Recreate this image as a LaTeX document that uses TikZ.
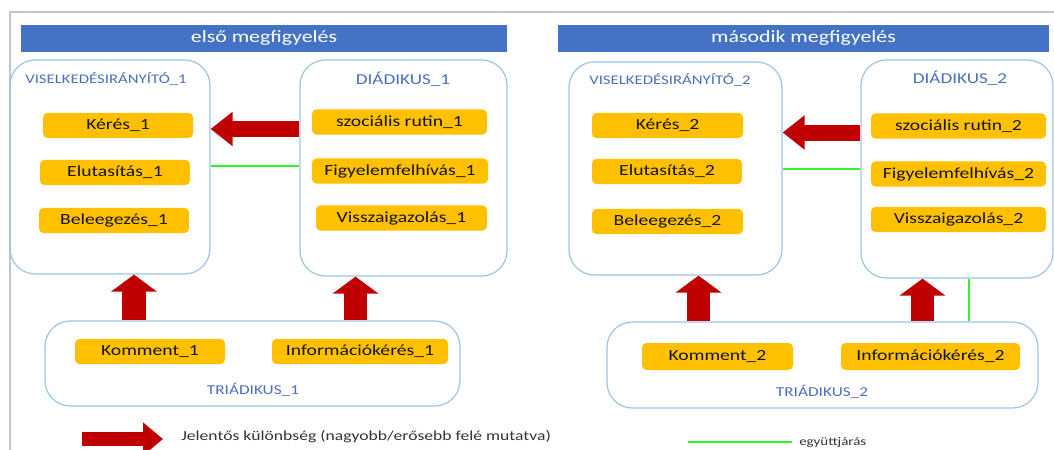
\documentclass[tikz,border=0pt]{standalone}
\usepackage{fontspec}
\setmainfont{Carlito}[FakeStretch=1.27]
\usetikzlibrary{arrows.meta}
\definecolor{titleblue}{HTML}{4472C4}
\definecolor{boxline}{HTML}{9DC3E6}
\definecolor{itemorange}{HTML}{FFC000}
\definecolor{arrowred}{HTML}{C00000}
\definecolor{labelblue}{HTML}{4A6FC0}
\definecolor{corrgreen}{HTML}{2EF52E}
\definecolor{framegray}{HTML}{C4C4C4}

\begin{document}
\begin{tikzpicture}[x=0.75pt,y=0.75pt,yscale=-1,xscale=1,
	titlebar/.style={fill=titleblue, text=white, inner sep=0pt, minimum height=20.25pt, font=\fontsize{12.9}{14}\selectfont},
	group/.style={draw=boxline, line width=0.9pt, rounded corners=19pt, inner sep=0pt},
	grouplabel/.style={text=labelblue, inner sep=0.75pt},
	item/.style={fill=itemorange, rounded corners=3.5pt, minimum width=#1, minimum height=19pt, inner sep=0pt, text=black!92, font=\fontsize{11.6}{13}\selectfont},
	item/.default=112.5pt,
	sigarrow/.style={draw=arrowred, line width=12pt, -{Triangle[width=24.75pt,length=16.5pt]}},
	uparrow/.style={draw=arrowred, line width=17.5pt, -{Triangle[width=33.75pt,length=12.75pt]}},
	corr/.style={draw=corrgreen, line width=2.2pt}]
	\useasboundingbox (0,0) rectangle (1054,450);
	\draw [framegray, line width=1.1pt] (10,450) -- (10,12) -- (1054,12) ;
	% titles
	\node [titlebar, minimum width=364.5pt] (title1) at (264,38.5) {első megfigyelés};
	\node [titlebar, minimum width=368.25pt] (title2) at (803.5,38.5) {második megfigyelés};
	% first observation
	\node [group, minimum width=150pt, minimum height=160.5pt] (vis1) at (110,167) {};
	\node [group, minimum width=155.25pt, minimum height=162pt] (dia1) at (403.5,168) {};
	\node [group, minimum width=311.25pt, minimum height=63.75pt] (tri1) at (252.5,363.5) {};
	\node [grouplabel, font=\fontsize{9.9}{11}\selectfont] (vis1lab) at (106,79) {VISELKEDÉSIRÁNYÍTÓ\_1};
	\node [grouplabel, font=\fontsize{11.3}{13}\selectfont] (dia1lab) at (403,79) {DIÁDIKUS\_1};
	\node [grouplabel, font=\fontsize{10.2}{12}\selectfont] (tri1lab) at (253,390) {TRIÁDIKUS\_1};
	\node [item] (keres1) at (118,125.5) {Kérés\_1};
	\node [item] (eluta1) at (115,172.5) {Elutasítás\_1};
	\node [item] (bele1) at (114,220.5) {Beleegezés\_1};
	\node [item=131.25pt] (rutin1) at (399.5,122) {szociális rutin\_1};
	\node [item=132pt] (figy1) at (400,171) {Figyelemfelhívás\_1};
	\node [item=128.25pt] (vissza1) at (401.5,218) {Visszaigazolás\_1};
	\node [item] (komm1) at (150,351.5) {Komment\_1};
	\node [item=132pt] (info1) at (360,351.5) {Információkérés\_1};
	% second observation
	\node [group, minimum width=159.75pt, minimum height=159.75pt] (vis2) at (675.5,168.5) {};
	\node [group, minimum width=144pt, minimum height=163.5pt] (dia2) at (957,169) {};
	\node [group, minimum width=323.25pt, minimum height=64.5pt] (tri2) at (822.5,365) {};
	\node [grouplabel, font=\fontsize{9.9}{11}\selectfont] (vis2lab) at (670,80) {VISELKEDÉSIRÁNYÍTÓ\_2};
	\node [grouplabel, font=\fontsize{11.3}{13}\selectfont] (dia2lab) at (960,78) {DIÁDIKUS\_2};
	\node [grouplabel, font=\fontsize{10.2}{12}\selectfont] (tri2lab) at (822,392) {TRIÁDIKUS\_2};
	\node [item=113.25pt] (keres2) at (667.5,125.5) {Kérés\_2};
	\node [item] (eluta2) at (667,171.5) {Elutasítás\_2};
	\node [item=113.25pt] (bele2) at (667.5,221.5) {Beleegezés\_2};
	\node [item=131.25pt] (rutin2) at (958.5,126) {szociális rutin\_2};
	\node [item=131.25pt] (figy2) at (958.5,174) {Figyelemfelhívás\_2};
	\node [item=131.25pt] (vissza2) at (958.5,219.5) {Visszaigazolás\_2};
	\node [item=113.25pt, minimum height=20.25pt] (komm2) at (717.5,356.5) {Komment\_2};
	\node [item=134.25pt, minimum height=20.25pt] (info2) at (930.5,356.5) {Információkérés\_2};
	% connectors
	\coordinate (h1) at (0,129);
	\coordinate (h2) at (0,132.5);
	\coordinate (g1) at (0,166);
	\coordinate (g2) at (0,169);
	\coordinate (u1) at (134,0);
	\coordinate (u2) at (355.5,0);
	\coordinate (u3) at (698.5,0);
	\coordinate (u4) at (922.5,0);
	\coordinate (g3) at (969,0);
	\draw [sigarrow] (dia1.west |- h1) -- (vis1.east |- h1) ;
	\draw [sigarrow] (dia2.west |- h2) -- (vis2.east |- h2) ;
	\draw [corr] (vis1.east |- g1) -- (dia1.west |- g1) ;
	\draw [corr] (vis2.east |- g2) -- (dia2.west |- g2) ;
	\draw [uparrow] (tri1.north -| u1) -- (vis1.south -| u1) ;
	\draw [uparrow] (tri1.north -| u2) -- (dia1.south -| u2) ;
	\draw [uparrow] (tri2.north -| u3) -- (vis2.south -| u3) ;
	\draw [uparrow] (tri2.north -| u4) -- (dia2.south -| u4) ;
	\draw [corr] (dia2.south -| g3) -- (tri2.north -| g3) ;
	% legend
	\coordinate (legA) at (82,439);
	\coordinate (legB) at (163,439);
	\coordinate (legC) at (688,442);
	\coordinate (legD) at (792,442);
	\draw [draw=arrowred, line width=11pt, -{Triangle[width=24pt,length=15pt]}] (legA) -- (legB) ;
	\draw [corr] (legC) -- (legD) ;
	\node [anchor=west, inner sep=0.75pt, text=black!80, font=\fontsize{10.4}{12}\selectfont] (legsig) at (180,437) {Jelentős különbség (nagyobb/erősebb felé mutatva)};
	\node [anchor=west, inner sep=0.75pt, text=black!80, font=\fontsize{8.8}{10}\selectfont] (legcorr) at (798,442) {együttjárás};
\end{tikzpicture}
\end{document}
